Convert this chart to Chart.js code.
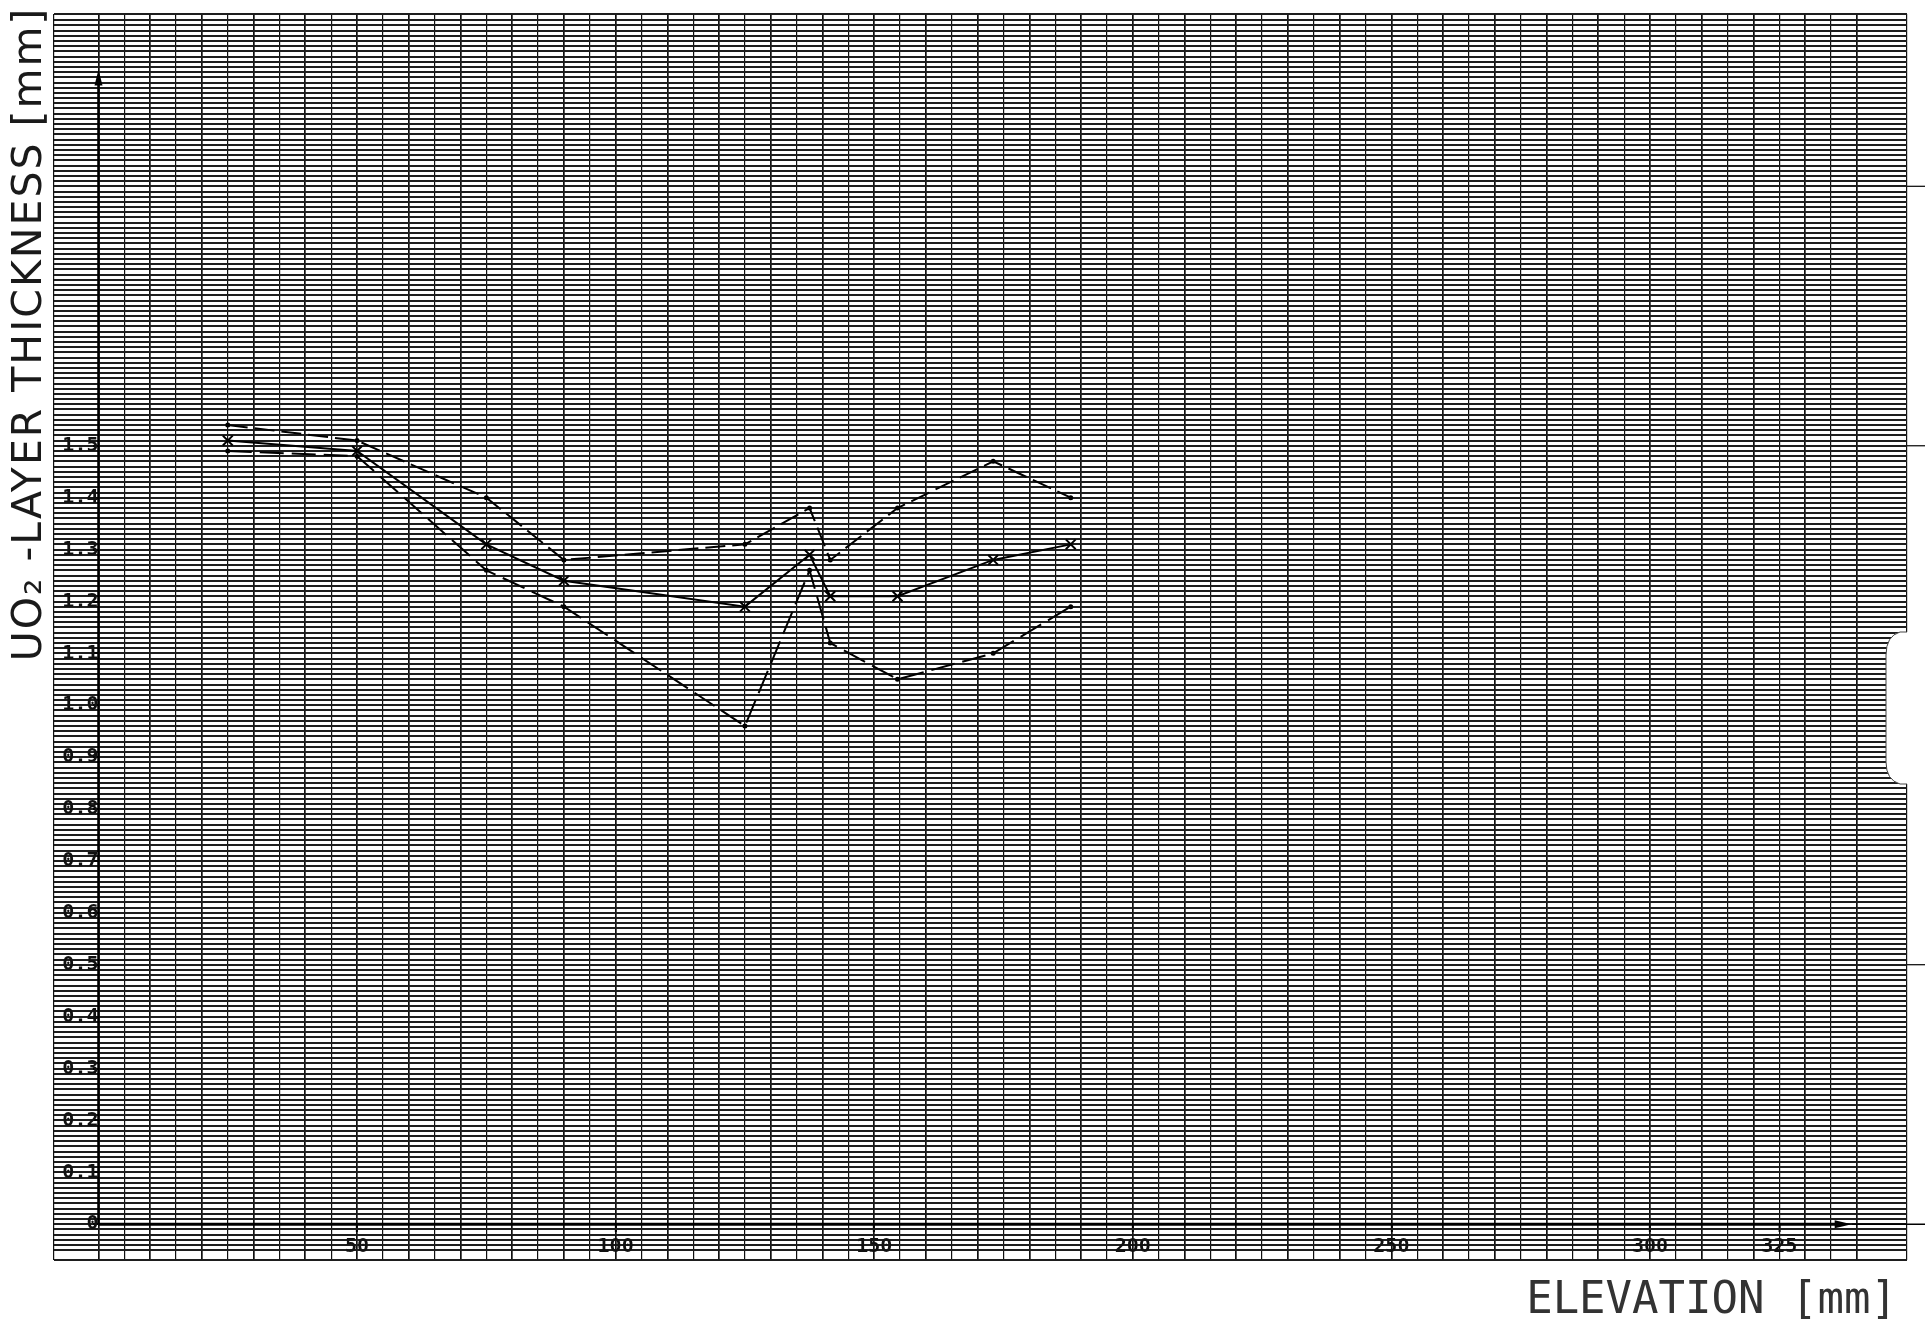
<!DOCTYPE html>
<html>
<head>
<meta charset="utf-8">
<script src="https://cdn.jsdelivr.net/npm/chart.js@4.4.1/dist/chart.umd.min.js"></script>
<style>
  html, body { margin: 0; padding: 0; background: #fff; }
  #wrap { width: 1925px; height: 1324px; position: relative; }
</style>
</head>
<body>
<div id="wrap"><canvas id="chart"></canvas></div>
<script>
// Elevation of each measuring plane [mm]
const elevation = [25, 50, 75, 90, 125, 137.5, 141.5, 154.5, 173, 188];

// UO2 layer thickness [mm]: upper dashed, solid (x marks), lower dashed
const upperThickness = [1.54, 1.51, 1.40, 1.28, 1.31, 1.38, 1.28, 1.38, 1.47, 1.40];
const meanThickness = [1.51, 1.49, 1.31, 1.24, 1.19, 1.29, 1.21, 1.21, 1.28, 1.31];
const lowerThickness = [1.49, 1.48, 1.26, 1.19, 0.96, 1.26, 1.12, 1.05, 1.10, 1.19];

// Tick labels printed on the axes
const xTickLabels = ['50', '100', '150', '200', '250', '300', '325'];
const yTickLabels = ['0', '0.1', '0.2', '0.3', '0.4', '0.5', '0.6', '0.7',
                     '0.8', '0.9', '1.0', '1.1', '1.2', '1.3', '1.4', '1.5'];

// Axis titles
const xTitle = 'ELEVATION [mm]';
const yTitle = 'UO\u2082 -LAYER THICKNESS [mm]';

function toPoints(ys) {
    return elevation.map((x, i) => ({ x: x, y: ys[i] }));
}

function xLabelFor(v) {
    const hit = xTickLabels.find(l => Math.abs(parseFloat(l) - v) < 1e-6);
    return hit === undefined ? '' : hit;
}

function yLabelFor(v) {
    const hit = yTickLabels.find(l => Math.abs(parseFloat(l) - v) < 1e-6);
    return hit === undefined ? '' : hit;
}

//Plotter axes, arrows, titles and the paper's notch
const plotterDecor = {
    id: 'plotterDecor',
    afterDraw(chart) {
        const c = chart.ctx;
        const xs = chart.scales.x;
        const ys = chart.scales.y;
        const x0 = xs.getPixelForValue(0);
        const y0 = ys.getPixelForValue(0);
        const yTop = ys.getPixelForValue(2.225);
        const xEnd = xs.getPixelForValue(339);

        c.save();
        c.strokeStyle = '#000';
        c.fillStyle = '#000';

        // y axis with arrow
        c.lineWidth = 2.5;
        c.beginPath();
        c.moveTo(x0, y0);
        c.lineTo(x0, yTop + 12);
        c.stroke();
        c.beginPath();
        c.moveTo(x0, yTop);
        c.lineTo(x0 - 4, yTop + 16);
        c.lineTo(x0 + 4, yTop + 16);
        c.closePath();
        c.fill();

        // x axis with arrow
        c.lineWidth = 3;
        c.beginPath();
        c.moveTo(x0, y0);
        c.lineTo(xEnd - 14, y0);
        c.stroke();
        c.beginPath();
        c.moveTo(xEnd, y0);
        c.lineTo(xEnd - 17, y0 - 4);
        c.lineTo(xEnd - 17, y0 + 4);
        c.closePath();
        c.fill();
        c.lineWidth = 1.5;
        c.beginPath();
        c.moveTo(xEnd, y0);
        c.lineTo(1925, y0);
        c.stroke();

        // short marks in the right margin
        c.lineWidth = 1.2;
        [2.0, 1.5, 0.5].forEach(v => {
            const py = ys.getPixelForValue(v);
            c.beginPath();
            c.moveTo(chart.chartArea.right, py);
            c.lineTo(1925, py);
            c.stroke();
        });

        // notch cut into the right edge of the paper
        c.fillStyle = '#fff';
        c.beginPath();
        c.moveTo(1925, 632);
        c.lineTo(1900, 632);
        c.quadraticCurveTo(1886, 636, 1886, 655);
        c.lineTo(1886, 762);
        c.quadraticCurveTo(1886, 780, 1900, 784);
        c.lineTo(1925, 784);
        c.closePath();
        c.fill();
        c.strokeStyle = '#444';
        c.lineWidth = 1;
        c.beginPath();
        c.moveTo(1907, 632);
        c.lineTo(1900, 632);
        c.quadraticCurveTo(1886, 636, 1886, 655);
        c.lineTo(1886, 762);
        c.quadraticCurveTo(1886, 780, 1900, 784);
        c.lineTo(1907, 784);
        c.stroke();

        // axis titles
        c.fillStyle = '#1a1a1a';
        c.font = '41px "DejaVu Sans"';
        c.letterSpacing = '2px';
        c.textAlign = 'center';
        c.textBaseline = 'middle';
        c.translate(30, 334);
        c.rotate(-Math.PI / 2);
        c.fillText(yTitle, 0, 0);
        c.setTransform(1, 0, 0, 1, 0, 0);
        c.letterSpacing = '0px';
        c.font = '44px "DejaVu Sans Mono"';
        c.fillStyle = '#333';
        c.textAlign = 'right';
        c.fillText(xTitle, 1897, 1302);
        c.restore();
    }
};

const ctx = document.querySelector('#chart');

const myChart = new Chart(ctx, {
    type: 'line',
    data: {
        datasets: [{
            label: 'upper',
            data: toPoints(upperThickness),
            borderColor: '#000',
            backgroundColor: '#000',
            borderWidth: 2,
            borderDash: [20, 7],
            pointRadius: 2.5,
            pointBorderWidth: 0
        }, {
            label: 'mean',
            data: toPoints(meanThickness),
            borderColor: '#000',
            backgroundColor: '#000',
            borderWidth: 2,
            pointStyle: 'crossRot',
            pointRadius: 7,
            pointBorderWidth: 2
        }, {
            label: 'lower',
            data: toPoints(lowerThickness),
            borderColor: '#000',
            backgroundColor: '#000',
            borderWidth: 2,
            borderDash: [24, 8],
            pointRadius: 2.5,
            pointBorderWidth: 0
        }]
    },
    options: {
        responsive: true,
        maintainAspectRatio: false,
        animation: false,
        layout: {
            padding: { left: 54, top: 2, right: 18, bottom: 64 }
        },
        plugins: {
            legend: { display: false },
            tooltip: { enabled: false }
        },
        scales: {
            x: {
                type: 'linear',
                position: { y: 0 },
                min: -8.6,
                max: 349.7,
                border: { display: false },
                grid: {
                    color: '#111',
                    lineWidth: c => (Math.abs(c.tick.value % 10) < 1e-6 ? 1.7 : 1.2),
                    tickColor: c => (xLabelFor(c.tick.value) ? '#000' : 'rgba(0,0,0,0)'),
                    tickLength: 8,
                    tickWidth: 2
                },
                ticks: {
                    stepSize: 5,
                    autoSkip: false,
                    maxRotation: 0,
                    minRotation: 0,
                    padding: 3,
                    color: '#111',
                    font: { family: 'DejaVu Sans Mono', size: 20, weight: 'bold' },
                    callback: v => xLabelFor(v)
                }
            },
            y: {
                type: 'linear',
                position: { x: 0 },
                min: -0.069,
                max: 2.332,
                border: { display: false },
                grid: {
                    color: '#1e1e1e',
                    lineWidth: 1.9,
                    tickColor: c => (yLabelFor(c.tick.value) ? '#000' : 'rgba(0,0,0,0)'),
                    tickLength: 5,
                    tickWidth: 2
                },
                ticks: {
                    stepSize: 0.01,
                    autoSkip: false,
                    padding: 2,
                    color: '#111',
                    font: { family: 'DejaVu Sans Mono', size: 20, weight: 'bold' },
                    callback: v => yLabelFor(v)
                }
            }
        }
    },
    plugins: [plotterDecor]
});
</script>
</body>
</html>
